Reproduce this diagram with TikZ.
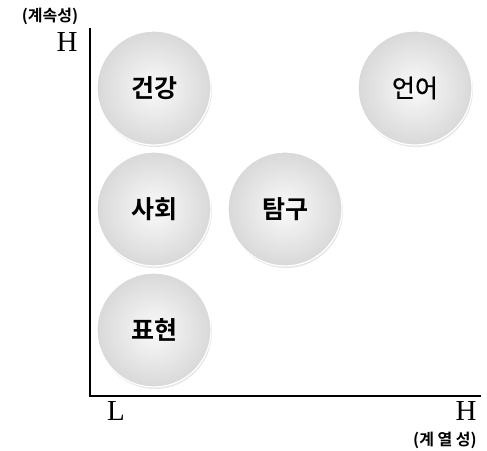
\documentclass[tikz,border=0pt]{standalone}
\usepackage{fontspec}
\setmainfont{Liberation Serif}
\newfontfamily\kor{Noto Sans CJK KR}[BoldFont={* Bold}]
\newfontfamily\korm{Noto Sans CJK KR}[FakeBold=0.6]
\usetikzlibrary{positioning,shadows}

\tikzset{
  area/.style={circle,minimum size=114pt,inner sep=0pt,
    inner color=gray!4,outer color=gray!30,
    draw=white,line width=1.2pt,
    drop shadow={opacity=0.2,shadow xshift=1pt,shadow yshift=-2pt},
    font=\kor\bfseries\fontsize{25}{28}\selectfont},
  plainarea/.style={area,font=\korm\fontsize{25}{28}\selectfont},
  axislabel/.style={inner sep=0pt,font=\fontsize{29}{32}\selectfont},
  axisname/.style={inner sep=0pt,font=\kor\bfseries\fontsize{16}{20}\selectfont}
}

\begin{document}
\begin{tikzpicture}[x=1pt,y=-1pt]
\useasboundingbox (0,0) rectangle (487,450);
% axes
\coordinate (origin) at (90,396);
\coordinate (ytop) at (90,28);
\coordinate (xend) at (481,396);
\draw [line width=2.6pt] (ytop) -- (origin) -- (xend);
\node [axisname] (ycap) at (50,16) {(계속성)};
\node [axislabel] (yhigh) at (67,42) {H};
\node [axislabel] (xlow) at (116,411) {L};
\node [axislabel] (xhigh) at (466,411) {H};
\node [axisname] (xcap) at (445,440) {(계 열 성)};
% domains
\node [area] (health) at (154,88) {건강};
\node [plainarea] (lang) at (415,88) {언어};
\node [area] (society) at (154,209) {사회};
\node [area] (inquiry) at (285,209) {탐구};
\node [area] (express) at (154,330) {표현};
\end{tikzpicture}
\end{document}
